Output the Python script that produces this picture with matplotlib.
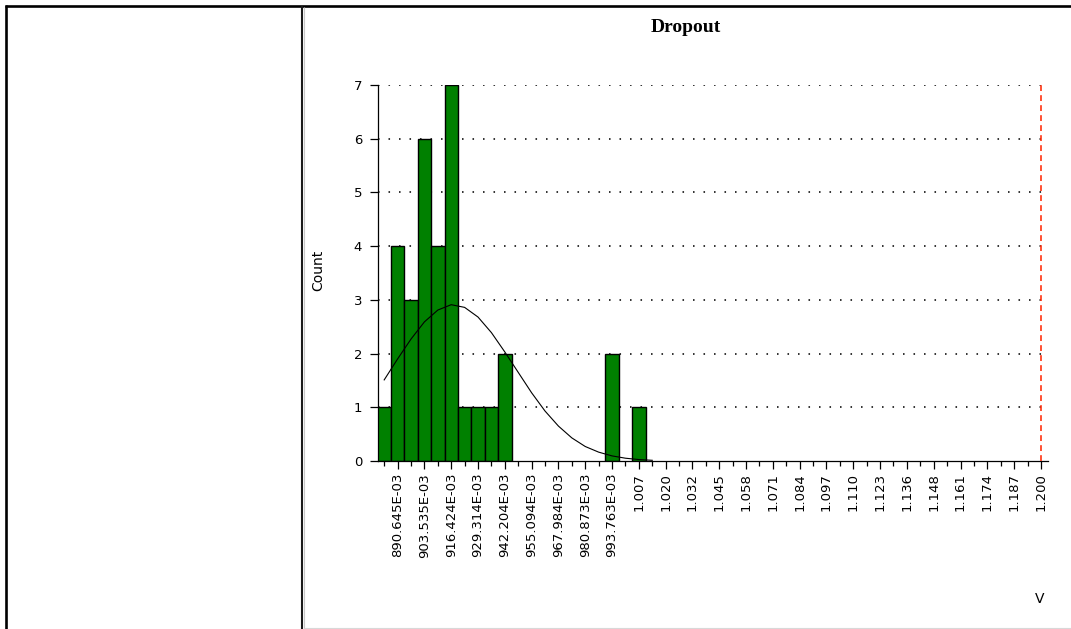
import numpy as np
import matplotlib
matplotlib.use("Agg")
from matplotlib import pyplot as plt
from matplotlib.lines import Line2D

# histogram bins (volts) and counts
bin_start = 0.884200
bin_width = 0.006445
counts = [1, 4, 3, 6, 4, 7, 1, 1, 1, 2, 0, 0, 0, 0, 0, 0, 0, 2, 0, 1, 0]

# fitted normal curve, one value per bin centre
curve = [1.51, 1.90, 2.27, 2.59, 2.81, 2.91, 2.86, 2.68, 2.39, 2.03, 1.65,
         1.27, 0.93, 0.65, 0.43, 0.27, 0.165, 0.095, 0.052, 0.027, 0.013]

tick_labels = ["890.645E-03", "903.535E-03", "916.424E-03", "929.314E-03",
               "942.204E-03", "955.094E-03", "967.984E-03", "980.873E-03",
               "993.763E-03", "1.007", "1.020", "1.032", "1.045", "1.058",
               "1.071", "1.084", "1.097", "1.110", "1.123", "1.136", "1.148",
               "1.161", "1.174", "1.187", "1.200"]
first_tick = 0.890645
tick_step = 0.0128898
limit = 1.200

W, H = 1071, 629
fig = plt.figure(figsize=(W / 100, H / 100), dpi=100)
fig.patch.set_facecolor("white")

# frame of the report table
def fline(xs, ys, **kw):
    fig.add_artist(Line2D([x / W for x in xs], [1 - y / H for y in ys],
                          transform=fig.transFigure, solid_capstyle="butt", **kw))

fline([5, 1071], [6, 6], color="black", lw=1.9)
fline([6, 6], [5, 629], color="black", lw=1.9)
fline([302, 302], [6, 629], color="#1a1a1a", lw=1.5)
fline([304, 304], [7, 629], color="#c8c8c8", lw=0.8)
fline([304, 1071], [628, 628], color="#d8d8d8", lw=0.8)

ax = fig.add_axes([377.5 / W, 1 - 461 / H, 670.5 / W, 376 / H])

centers = bin_start + bin_width * np.arange(len(counts))
counts = np.array(counts)
filled = counts > 0

for y in range(1, 8):
    ax.axhline(y, color="#333333", lw=1.4, ls=(0, (0.8, 4.6)), zorder=0)

ax.bar(centers[filled], counts[filled], width=bin_width, color="#008000",
       edgecolor="black", linewidth=1.0, zorder=2)
ax.plot(centers, curve, color="black", lw=0.8, zorder=3)
ax.vlines(limit, 0, 7, color="#ff3311", lw=1.2, ls=(0, (3.5, 2.5)), zorder=3)

ax.set_xlim(0.88098, 1.2034)
ax.set_ylim(0, 7)

for side in ["top", "right"]:
    ax.spines[side].set_visible(False)
for side in ["left", "bottom"]:
    ax.spines[side].set_linewidth(0.9)

ticks = first_tick + tick_step * np.arange(len(tick_labels))
ax.set_xticks(ticks)
ax.set_xticklabels(tick_labels, rotation=90, fontsize=9.5,
                   family="DejaVu Sans")
ax.set_xticks(ticks - tick_step / 2, minor=True)
ax.tick_params(axis="x", which="major", length=6, width=0.9, pad=2.5)
ax.tick_params(axis="x", which="minor", length=3.5, width=0.9)

ax.set_yticks(range(8))
ax.set_yticklabels([str(v) for v in range(8)], fontsize=9.5,
                   family="DejaVu Sans")
ax.tick_params(axis="y", length=6, width=0.9, pad=5)

fig.text(318 / W, 1 - 270 / H, "Count", rotation=90, ha="center",
         va="center", fontsize=10, family="DejaVu Sans")
fig.text(1040 / W, 1 - 599 / H, "V", ha="center", va="center",
         fontsize=10, family="DejaVu Sans")
fig.text(686 / W, 1 - 28 / H, "Dropout", ha="center", va="center",
         fontsize=14, fontweight="bold", family="Liberation Serif")

fig.savefig("out.png", dpi=100)
